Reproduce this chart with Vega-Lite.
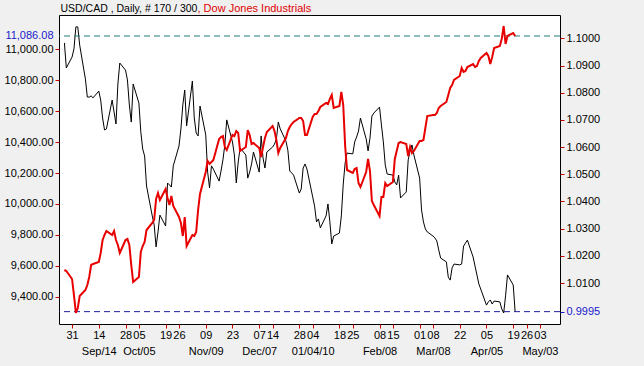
{
  "$schema": "https://vega.github.io/schema/vega-lite/v6.json",
  "width": 501,
  "height": 309,
  "autosize": "none",
  "padding": {"left": 59, "top": 15, "right": 84, "bottom": 42},
  "background": "#f0f0f0",
  "view": {"fill": "white", "stroke": "black", "strokeWidth": 1},
  "config": {
    "font": "Liberation Sans",
    "axis": {"labelFont": "Liberation Sans", "labelFontSize": 11, "labelColor": "#000", "grid": false, "domain": false, "tickColor": "#cc0000", "tickSize": 4, "labelPadding": 2, "labelOverlap": false, "labelFlush": false, "titleFont": "Liberation Sans", "titleFontSize": 11, "titleFontWeight": "normal"}
  },
  "data": {"values": [
    {"date": "2009-08-27", "usdcad": 1.0983, "dow": 9572.7},
    {"date": "2009-08-28", "usdcad": 1.0891, "dow": 9566.2},
    {"date": "2009-08-31", "usdcad": 1.0931, "dow": 9514.5},
    {"date": "2009-09-01", "usdcad": 1.0961, "dow": 9411.0},
    {"date": "2009-09-02", "usdcad": 1.1042, "dow": 9294.6},
    {"date": "2009-09-03", "usdcad": 1.1042, "dow": 9327.0},
    {"date": "2009-09-04", "usdcad": 1.0975, "dow": 9404.6},
    {"date": "2009-09-07", "usdcad": 1.0850, "dow": 9443.4},
    {"date": "2009-09-08", "usdcad": 1.0784, "dow": 9475.7},
    {"date": "2009-09-09", "usdcad": 1.0784, "dow": 9527.4},
    {"date": "2009-09-10", "usdcad": 1.0788, "dow": 9605.2},
    {"date": "2009-09-11", "usdcad": 1.0781, "dow": 9611.5},
    {"date": "2009-09-14", "usdcad": 1.0806, "dow": 9624.4},
    {"date": "2009-09-15", "usdcad": 1.0773, "dow": 9682.7},
    {"date": "2009-09-16", "usdcad": 1.0707, "dow": 9766.7},
    {"date": "2009-09-17", "usdcad": 1.0663, "dow": 9799.1},
    {"date": "2009-09-18", "usdcad": 1.0667, "dow": 9824.9},
    {"date": "2009-09-21", "usdcad": 1.0773, "dow": 9799.1},
    {"date": "2009-09-22", "usdcad": 1.0729, "dow": 9824.9},
    {"date": "2009-09-23", "usdcad": 1.0685, "dow": 9766.7},
    {"date": "2009-09-24", "usdcad": 1.0832, "dow": 9734.4},
    {"date": "2009-09-25", "usdcad": 1.0909, "dow": 9682.7},
    {"date": "2009-09-28", "usdcad": 1.0883, "dow": 9766.7},
    {"date": "2009-09-29", "usdcad": 1.0847, "dow": 9773.2},
    {"date": "2009-09-30", "usdcad": 1.0755, "dow": 9734.4},
    {"date": "2009-10-01", "usdcad": 1.0692, "dow": 9605.2},
    {"date": "2009-10-02", "usdcad": 1.0832, "dow": 9495.1},
    {"date": "2009-10-05", "usdcad": 1.0762, "dow": 9527.4},
    {"date": "2009-10-06", "usdcad": 1.0656, "dow": 9689.1},
    {"date": "2009-10-07", "usdcad": 1.0593, "dow": 9727.9},
    {"date": "2009-10-08", "usdcad": 1.0567, "dow": 9753.8},
    {"date": "2009-10-09", "usdcad": 1.0457, "dow": 9831.4},
    {"date": "2009-10-12", "usdcad": 1.0347, "dow": 9876.7},
    {"date": "2009-10-13", "usdcad": 1.0314, "dow": 9896.1},
    {"date": "2009-10-14", "usdcad": 1.0233, "dow": 10032.0},
    {"date": "2009-10-15", "usdcad": 1.0288, "dow": 10070.7},
    {"date": "2009-10-16", "usdcad": 1.0350, "dow": 10025.4},
    {"date": "2009-10-19", "usdcad": 1.0310, "dow": 10096.6},
    {"date": "2009-10-20", "usdcad": 1.0468, "dow": 10038.4},
    {"date": "2009-10-21", "usdcad": 1.0461, "dow": 9993.1},
    {"date": "2009-10-22", "usdcad": 1.0453, "dow": 10051.3},
    {"date": "2009-10-23", "usdcad": 1.0531, "dow": 9986.6},
    {"date": "2009-10-26", "usdcad": 1.0604, "dow": 9915.5},
    {"date": "2009-10-27", "usdcad": 1.0667, "dow": 9876.7},
    {"date": "2009-10-28", "usdcad": 1.0755, "dow": 9792.6},
    {"date": "2009-10-29", "usdcad": 1.0810, "dow": 9915.5},
    {"date": "2009-10-30", "usdcad": 1.0678, "dow": 9727.9},
    {"date": "2009-11-02", "usdcad": 1.0843, "dow": 9799.1},
    {"date": "2009-11-03", "usdcad": 1.0707, "dow": 9792.6},
    {"date": "2009-11-04", "usdcad": 1.0652, "dow": 9818.5},
    {"date": "2009-11-05", "usdcad": 1.0641, "dow": 9960.7},
    {"date": "2009-11-06", "usdcad": 1.0751, "dow": 10064.2},
    {"date": "2009-11-09", "usdcad": 1.0645, "dow": 10206.5},
    {"date": "2009-11-10", "usdcad": 1.0508, "dow": 10277.6},
    {"date": "2009-11-11", "usdcad": 1.0450, "dow": 10258.2},
    {"date": "2009-11-12", "usdcad": 1.0531, "dow": 10271.1},
    {"date": "2009-11-13", "usdcad": 1.0519, "dow": 10284.1},
    {"date": "2009-11-16", "usdcad": 1.0475, "dow": 10419.9},
    {"date": "2009-11-17", "usdcad": 1.0512, "dow": 10432.8},
    {"date": "2009-11-18", "usdcad": 1.0553, "dow": 10439.3},
    {"date": "2009-11-19", "usdcad": 1.0608, "dow": 10368.2},
    {"date": "2009-11-20", "usdcad": 1.0700, "dow": 10348.8},
    {"date": "2009-11-23", "usdcad": 1.0619, "dow": 10445.8},
    {"date": "2009-11-24", "usdcad": 1.0571, "dow": 10439.3},
    {"date": "2009-11-25", "usdcad": 1.0468, "dow": 10471.6},
    {"date": "2009-11-26", "usdcad": 1.0545, "dow": 10458.7},
    {"date": "2009-11-27", "usdcad": 1.0597, "dow": 10342.3},
    {"date": "2009-11-30", "usdcad": 1.0571, "dow": 10368.2},
    {"date": "2009-12-01", "usdcad": 1.0486, "dow": 10478.1},
    {"date": "2009-12-02", "usdcad": 1.0508, "dow": 10445.8},
    {"date": "2009-12-03", "usdcad": 1.0538, "dow": 10387.6},
    {"date": "2009-12-04", "usdcad": 1.0582, "dow": 10394.0},
    {"date": "2009-12-07", "usdcad": 1.0508, "dow": 10361.7},
    {"date": "2009-12-08", "usdcad": 1.0641, "dow": 10303.5},
    {"date": "2009-12-09", "usdcad": 1.0560, "dow": 10368.2},
    {"date": "2009-12-10", "usdcad": 1.0523, "dow": 10426.4},
    {"date": "2009-12-11", "usdcad": 1.0582, "dow": 10465.2},
    {"date": "2009-12-14", "usdcad": 1.0600, "dow": 10504.0},
    {"date": "2009-12-15", "usdcad": 1.0611, "dow": 10471.6},
    {"date": "2009-12-16", "usdcad": 1.0630, "dow": 10413.4},
    {"date": "2009-12-17", "usdcad": 1.0692, "dow": 10329.4},
    {"date": "2009-12-18", "usdcad": 1.0667, "dow": 10361.7},
    {"date": "2009-12-21", "usdcad": 1.0622, "dow": 10426.4},
    {"date": "2009-12-22", "usdcad": 1.0589, "dow": 10471.6},
    {"date": "2009-12-23", "usdcad": 1.0512, "dow": 10497.5},
    {"date": "2009-12-24", "usdcad": 1.0505, "dow": 10516.9},
    {"date": "2009-12-25", "usdcad": 1.0497, "dow": 10529.8},
    {"date": "2009-12-28", "usdcad": 1.0431, "dow": 10555.7},
    {"date": "2009-12-29", "usdcad": 1.0446, "dow": 10555.7},
    {"date": "2009-12-30", "usdcad": 1.0523, "dow": 10536.3},
    {"date": "2009-12-31", "usdcad": 1.0538, "dow": 10445.8},
    {"date": "2010-01-01", "usdcad": 1.0519, "dow": 10445.8},
    {"date": "2010-01-04", "usdcad": 1.0417, "dow": 10562.2},
    {"date": "2010-01-05", "usdcad": 1.0383, "dow": 10581.6},
    {"date": "2010-01-06", "usdcad": 1.0325, "dow": 10581.6},
    {"date": "2010-01-07", "usdcad": 1.0336, "dow": 10601.0},
    {"date": "2010-01-08", "usdcad": 1.0303, "dow": 10626.8},
    {"date": "2010-01-11", "usdcad": 1.0347, "dow": 10652.7},
    {"date": "2010-01-12", "usdcad": 1.0391, "dow": 10646.2},
    {"date": "2010-01-13", "usdcad": 1.0325, "dow": 10678.6},
    {"date": "2010-01-14", "usdcad": 1.0244, "dow": 10704.4},
    {"date": "2010-01-15", "usdcad": 1.0273, "dow": 10620.4},
    {"date": "2010-01-18", "usdcad": 1.0284, "dow": 10633.3},
    {"date": "2010-01-19", "usdcad": 1.0347, "dow": 10723.8},
    {"date": "2010-01-20", "usdcad": 1.0464, "dow": 10639.8},
    {"date": "2010-01-21", "usdcad": 1.0542, "dow": 10374.6},
    {"date": "2010-01-22", "usdcad": 1.0578, "dow": 10219.4},
    {"date": "2010-01-25", "usdcad": 1.0575, "dow": 10200.0},
    {"date": "2010-01-26", "usdcad": 1.0619, "dow": 10225.9},
    {"date": "2010-01-27", "usdcad": 1.0637, "dow": 10232.3},
    {"date": "2010-01-28", "usdcad": 1.0659, "dow": 10135.3},
    {"date": "2010-01-29", "usdcad": 1.0707, "dow": 10109.5},
    {"date": "2010-02-01", "usdcad": 1.0630, "dow": 10206.5},
    {"date": "2010-02-02", "usdcad": 1.0586, "dow": 10290.5},
    {"date": "2010-02-03", "usdcad": 1.0633, "dow": 10212.9},
    {"date": "2010-02-04", "usdcad": 1.0714, "dow": 10018.9},
    {"date": "2010-02-05", "usdcad": 1.0725, "dow": 9993.1},
    {"date": "2010-02-08", "usdcad": 1.0747, "dow": 9922.0},
    {"date": "2010-02-09", "usdcad": 1.0681, "dow": 10044.8},
    {"date": "2010-02-10", "usdcad": 1.0619, "dow": 10044.8},
    {"date": "2010-02-11", "usdcad": 1.0534, "dow": 10135.3},
    {"date": "2010-02-12", "usdcad": 1.0501, "dow": 10115.9},
    {"date": "2010-02-15", "usdcad": 1.0497, "dow": 10141.8},
    {"date": "2010-02-16", "usdcad": 1.0472, "dow": 10290.5},
    {"date": "2010-02-17", "usdcad": 1.0461, "dow": 10342.3},
    {"date": "2010-02-18", "usdcad": 1.0497, "dow": 10394.0},
    {"date": "2010-02-19", "usdcad": 1.0413, "dow": 10400.5},
    {"date": "2010-02-22", "usdcad": 1.0435, "dow": 10387.6},
    {"date": "2010-02-23", "usdcad": 1.0553, "dow": 10310.0},
    {"date": "2010-02-24", "usdcad": 1.0586, "dow": 10368.2},
    {"date": "2010-02-25", "usdcad": 1.0608, "dow": 10329.4},
    {"date": "2010-02-26", "usdcad": 1.0571, "dow": 10342.3},
    {"date": "2010-03-01", "usdcad": 1.0486, "dow": 10406.9},
    {"date": "2010-03-02", "usdcad": 1.0369, "dow": 10406.9},
    {"date": "2010-03-03", "usdcad": 1.0325, "dow": 10413.4},
    {"date": "2010-03-04", "usdcad": 1.0299, "dow": 10491.0},
    {"date": "2010-03-05", "usdcad": 1.0288, "dow": 10568.6},
    {"date": "2010-03-08", "usdcad": 1.0273, "dow": 10575.1},
    {"date": "2010-03-09", "usdcad": 1.0266, "dow": 10575.1},
    {"date": "2010-03-10", "usdcad": 1.0255, "dow": 10588.0},
    {"date": "2010-03-11", "usdcad": 1.0222, "dow": 10620.4},
    {"date": "2010-03-12", "usdcad": 1.0192, "dow": 10633.3},
    {"date": "2010-03-15", "usdcad": 1.0178, "dow": 10659.2},
    {"date": "2010-03-16", "usdcad": 1.0122, "dow": 10704.4},
    {"date": "2010-03-17", "usdcad": 1.0111, "dow": 10749.7},
    {"date": "2010-03-18", "usdcad": 1.0156, "dow": 10769.1},
    {"date": "2010-03-19", "usdcad": 1.0170, "dow": 10801.4},
    {"date": "2010-03-22", "usdcad": 1.0167, "dow": 10827.3},
    {"date": "2010-03-23", "usdcad": 1.0170, "dow": 10879.0},
    {"date": "2010-03-24", "usdcad": 1.0236, "dow": 10853.2},
    {"date": "2010-03-25", "usdcad": 1.0247, "dow": 10859.6},
    {"date": "2010-03-26", "usdcad": 1.0258, "dow": 10885.5},
    {"date": "2010-03-29", "usdcad": 1.0196, "dow": 10904.9},
    {"date": "2010-03-30", "usdcad": 1.0163, "dow": 10885.5},
    {"date": "2010-03-31", "usdcad": 1.0130, "dow": 10892.0},
    {"date": "2010-04-01", "usdcad": 1.0097, "dow": 10924.3},
    {"date": "2010-04-02", "usdcad": 1.0078, "dow": 10943.7},
    {"date": "2010-04-05", "usdcad": 1.0019, "dow": 10976.0},
    {"date": "2010-04-06", "usdcad": 1.0031, "dow": 10956.6},
    {"date": "2010-04-07", "usdcad": 1.0038, "dow": 10904.9},
    {"date": "2010-04-08", "usdcad": 1.0023, "dow": 10950.2},
    {"date": "2010-04-09", "usdcad": 1.0034, "dow": 11008.4},
    {"date": "2010-04-12", "usdcad": 1.0031, "dow": 11021.3},
    {"date": "2010-04-13", "usdcad": 1.0005, "dow": 11067.2},
    {"date": "2010-04-14", "usdcad": 0.9990, "dow": 11150.7},
    {"date": "2010-04-15", "usdcad": 1.0053, "dow": 11034.3},
    {"date": "2010-04-16", "usdcad": 1.0130, "dow": 11086.0},
    {"date": "2010-04-19", "usdcad": 1.0093, "dow": 11105.4},
    {"date": "2010-04-20", "usdcad": 0.9995, "dow": 11086.08}
  ]},
  "layer": [
    {
      "layer": [
        {
          "mark": {"type": "line", "color": "#000000", "strokeWidth": 1},
          "encoding": {
            "x": {
              "field": "date", "type": "temporal",
              "scale": {"type": "utc", "domain": [1251086400000, 1273752000000]},
              "axis": {
                "title": null,
                "values": [1251676800000, 1252886400000, 1254096000000, 1254700800000, 1255910400000, 1256515200000, 1257724800000, 1258934400000, 1260144000000, 1260748800000, 1261958400000, 1262563200000, 1263772800000, 1264377600000, 1265587200000, 1266192000000, 1267401600000, 1268006400000, 1269216000000, 1270425600000, 1271635200000, 1272240000000, 1272844800000],
                "labelExpr": "indexof(['0914','1005','1109','1207','0104','0208','0308','0405','0503'], utcFormat(datum.value, '%m%d')) >= 0 ? [utcFormat(datum.value, '%d'), utcFormat(datum.value, '%m%d') == '0104' ? utcFormat(datum.value, '%m/%d/%y') : utcFormat(datum.value, '%b/%d')] : utcFormat(datum.value, '%d')",
                "labelOverlap": false,
                "labelFlush": false,
                "labelLineHeight": 16,
                "labelBaseline": "top",
                "labelPadding": 1,
                "tickSize": 4
              }
            },
            "y": {
              "field": "usdcad", "type": "quantitative",
              "scale": {"domain": [0.99496, 1.10857], "nice": false, "zero": false},
              "axis": {
                "orient": "right",
                "title": "USD/CAD , Daily, # 170 / 300",
                "titleAngle": 0,
                "titleAlign": "left",
                "titleBaseline": "alphabetic",
                "titleX": -500,
                "titleY": -4,
                "titleFontSize": 10.5,
                "titleColor": "#000000",
                "values": [0.9995, 1.01, 1.02, 1.03, 1.04, 1.05, 1.06, 1.07, 1.08, 1.09, 1.1],
                "format": ".4f",
                "labelOverlap": false,
                "labelColor": {"condition": {"test": "datum.value < 1", "value": "#1a1acc"}, "value": "#000000"},
                "tickColor": {"condition": {"test": "datum.value < 1", "value": "#1a1acc"}, "value": "#cc0000"}
              }
            }
          }
        },
        {
          "data": {"values": [{"level": 0.9995}]},
          "mark": {"type": "rule", "color": "#1c1ca0", "strokeWidth": 1, "strokeDash": [6, 4]},
          "encoding": {
            "y": {
              "field": "level", "type": "quantitative",
              "axis": {
                "orient": "right",
                "title": "USD/CAD , Daily, # 170 / 300",
                "titleAngle": 0,
                "titleAlign": "left",
                "titleBaseline": "alphabetic",
                "titleX": -500,
                "titleY": -4,
                "titleFontSize": 10.5,
                "titleColor": "#000000",
                "values": [0.9995, 1.01, 1.02, 1.03, 1.04, 1.05, 1.06, 1.07, 1.08, 1.09, 1.1],
                "format": ".4f",
                "labelOverlap": false,
                "labelColor": {"condition": {"test": "datum.value < 1", "value": "#1a1acc"}, "value": "#000000"},
                "tickColor": {"condition": {"test": "datum.value < 1", "value": "#1a1acc"}, "value": "#cc0000"}
              }
            }
          }
        }
      ]
    },
    {
      "layer": [
        {
          "data": {"values": [{"level": 11086.08}]},
          "mark": {"type": "rule", "color": "#1f7a7a", "strokeWidth": 1, "strokeDash": [6, 4]},
          "encoding": {
            "y": {
              "field": "level", "type": "quantitative",
              "axis": {
                "orient": "left",
                "title": ", Dow Jones Industrials",
                "titleAngle": 0,
                "titleAlign": "left",
                "titleBaseline": "alphabetic",
                "titleX": 138,
                "titleY": -4,
                "titleColor": "#e00000",
                "values": [9400, 9600, 9800, 10000, 10200, 10400, 10600, 10800, 11000, 11086.08],
                "format": ",.2f",
                "labelOverlap": false,
                "labelColor": {"condition": {"test": "datum.value > 11050", "value": "#1a1acc"}, "value": "#000000"},
                "tickColor": {"condition": {"test": "datum.value > 11050", "value": "transparent"}, "value": "#cc0000"}
              }
            }
          }
        },
        {
          "mark": {"type": "line", "color": "#e80000", "strokeWidth": 2},
          "encoding": {
            "x": {
              "field": "date", "type": "temporal",
              "axis": {
                "title": null,
                "values": [1251676800000, 1252886400000, 1254096000000, 1254700800000, 1255910400000, 1256515200000, 1257724800000, 1258934400000, 1260144000000, 1260748800000, 1261958400000, 1262563200000, 1263772800000, 1264377600000, 1265587200000, 1266192000000, 1267401600000, 1268006400000, 1269216000000, 1270425600000, 1271635200000, 1272240000000, 1272844800000],
                "labelExpr": "indexof(['0914','1005','1109','1207','0104','0208','0308','0405','0503'], utcFormat(datum.value, '%m%d')) >= 0 ? [utcFormat(datum.value, '%d'), utcFormat(datum.value, '%m%d') == '0104' ? utcFormat(datum.value, '%m/%d/%y') : utcFormat(datum.value, '%b/%d')] : utcFormat(datum.value, '%d')",
                "labelOverlap": false,
                "labelFlush": false,
                "labelLineHeight": 16,
                "labelBaseline": "top",
                "labelPadding": 1,
                "tickSize": 4
              }
            },
            "y": {
              "field": "dow", "type": "quantitative",
              "scale": {"domain": [9223.5, 11221.8], "nice": false, "zero": false},
              "axis": {
                "orient": "left",
                "title": ", Dow Jones Industrials",
                "titleAngle": 0,
                "titleAlign": "left",
                "titleBaseline": "alphabetic",
                "titleX": 138,
                "titleY": -4,
                "titleColor": "#e00000",
                "values": [9400, 9600, 9800, 10000, 10200, 10400, 10600, 10800, 11000, 11086.08],
                "format": ",.2f",
                "labelOverlap": false,
                "labelColor": {"condition": {"test": "datum.value > 11050", "value": "#1a1acc"}, "value": "#000000"},
                "tickColor": {"condition": {"test": "datum.value > 11050", "value": "transparent"}, "value": "#cc0000"}
              }
            }
          }
        }
      ]
    }
  ],
  "resolve": {"scale": {"y": "independent"}}
}
